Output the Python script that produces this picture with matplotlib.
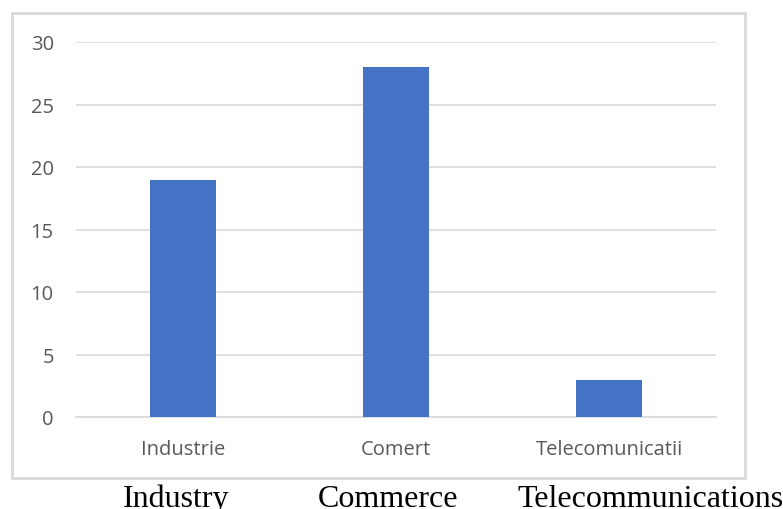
import matplotlib
matplotlib.use('Agg')
import matplotlib.pyplot as plt
from matplotlib.patches import Rectangle
import numpy as np

# chart data
categories = ['Industrie', 'Comert', 'Telecomunicatii']
values = [19, 28, 3]
y_ticks = [0, 5, 10, 15, 20, 25, 30]

# english captions under the chart box
captions = ['Industry', 'Commerce', 'Telecommunications']
caption_x = [123, 318, 517]  # left edge, pixels

W, H = 783, 510
fig = plt.figure(figsize=(W / 100, H / 100), dpi=100)

# axes placement in pixels (left, top, right, bottom)
left, top, right, bottom = 76, 43, 716, 418
ax = fig.add_axes([left / W, (H - bottom) / H, (right - left) / W, (bottom - top) / H])

x = np.arange(len(categories))
ax.bar(x, values, width=0.31, color='#4472C4', zorder=3)

ax.set_xlim(-0.5, len(categories) - 0.5)
ax.set_ylim(0, 30)
ax.set_yticks(y_ticks)
ax.set_xticks(x)
ax.set_xticklabels(categories)
ax.grid(axis='y', color='#d9d9d9', linewidth=1.2, zorder=0)

for side in ['top', 'right', 'left']:
    ax.spines[side].set_visible(False)
ax.spines['bottom'].set_color('#d9d9d9')
ax.spines['bottom'].set_linewidth(1.2)

ax.tick_params(axis='both', length=0, labelcolor='#595959', labelsize=14.5)
ax.tick_params(axis='x', pad=16)
ax.tick_params(axis='y', pad=16)
for lab in ax.get_xticklabels() + ax.get_yticklabels():
    lab.set_family('Open Sans')

# light frame around the chart
frame = Rectangle((12 / W, (H - 479) / H), (745 - 12) / W, (479 - 14) / H,
                  transform=fig.transFigure, fill=False,
                  edgecolor='#d9d9d9', linewidth=2)
fig.patches.append(frame)

for cap, cx in zip(captions, caption_x):
    fig.text(cx / W, (H - 507) / H, cap, family='Liberation Serif',
             fontsize=23, color='black', ha='left', va='baseline')

plt.savefig('out.png', dpi=100)
